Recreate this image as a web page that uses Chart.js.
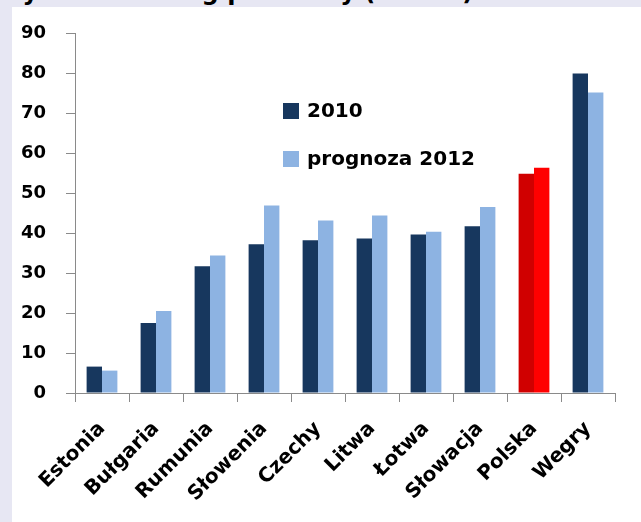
<!DOCTYPE html>
<html>
<head>
<meta charset="utf-8">
<script src="https://cdn.jsdelivr.net/npm/chart.js@4"></script>
<style>
  html, body { margin:0; padding:0; }
  body { width:641px; height:522px; background:#e7e7f3; position:relative; overflow:hidden; font-family:"DejaVu Sans", sans-serif; }
  #title { position:absolute; left:-4px; top:-22px; font:bold 24px "DejaVu Sans"; line-height:28px; color:#000; white-space:nowrap; z-index:0; }
  #panel { position:absolute; left:12px; top:7px; width:629px; height:515px; background:#fff; z-index:1; }
</style>
</head>
<body>
<div id="title">Wykres 1.1 Dług publiczny (% PKB)</div>
<div id="panel"><canvas id="c"></canvas></div>
<script>
const categories = ['Estonia','Bułgaria','Rumunia','Słowenia','Czechy','Litwa','Łotwa','Słowacja','Polska','Wegry'];
const seriesNames = ['2010','prognoza 2012'];
const values2010 = [6.6, 17.5, 31.7, 37.2, 38.2, 38.6, 39.6, 41.7, 54.8, 79.9];
const values2012 = [5.6, 20.5, 34.4, 46.9, 43.1, 44.4, 40.3, 46.5, 56.3, 75.1];
const yTicks = [0,10,20,30,40,50,60,70,80,90];
const highlighted = 'Polska';

const dark = '#17375e', light = '#8db3e2';
const darkHi = '#d00000', lightHi = '#ff0000';
const colorsFor = (base, hi) => categories.map(c => c === highlighted ? hi : base);

const FONT = '"DejaVu Sans", sans-serif';
const axisColor = '#8a8a8a';

const legendPlugin = {
  id: 'innerLegend',
  afterDraw(chart) {
    const {ctx, chartArea} = chart;
    const x0 = chartArea.left + 208;
    const rows = [chartArea.top + 78, chartArea.top + 126];
    ctx.save();
    ctx.font = 'bold 20px ' + FONT;
    ctx.textBaseline = 'middle';
    chart.data.datasets.forEach((ds, i) => {
      const cy = rows[i];
      ctx.fillStyle = ds.legendColor;
      ctx.fillRect(x0, cy - 8, 16, 16);
      ctx.fillStyle = '#000';
      ctx.fillText(ds.label, x0 + 24, cy + 1);
    });
    ctx.restore();
  }
};

new Chart(document.getElementById('c'), {
  type: 'bar',
  data: {
    labels: categories,
    datasets: [
      { label: seriesNames[0], data: values2010, backgroundColor: colorsFor(dark, darkHi), legendColor: dark,
        categoryPercentage: 0.57, barPercentage: 1.0 },
      { label: seriesNames[1], data: values2012, backgroundColor: colorsFor(light, lightHi), legendColor: light,
        categoryPercentage: 0.57, barPercentage: 1.0 }
    ]
  },
  options: {
    responsive: true,
    maintainAspectRatio: false,
    animation: false,
    layout: { padding: { top: 26, right: 26, left: 0, bottom: 0 } },
    plugins: { legend: { display: false }, tooltip: { enabled: false }, title: { display: false } },
    scales: {
      x: {
        grid: { display: true, drawOnChartArea: false, drawTicks: true, tickLength: 9, color: axisColor, offset: true },
        border: { color: axisColor, width: 1 },
        ticks: { autoSkip: false, minRotation: 45, maxRotation: 45, padding: 15, color: '#000',
                 font: { family: FONT, size: 20, weight: 'bold' } },
        afterFit(scale) { scale.height = 129; }
      },
      y: {
        min: 0, max: 90,
        afterBuildTicks(scale) { scale.ticks = yTicks.map(v => ({ value: v })); },
        grid: { display: true, drawOnChartArea: false, drawTicks: true, tickLength: 9, color: axisColor },
        border: { color: axisColor, width: 1 },
        ticks: { padding: 20, color: '#000', font: { family: FONT, size: 18, weight: 'bold' } },
        afterFit(scale) { scale.width = 63; scale.paddingTop = 11; scale.paddingBottom = 11; }
      }
    }
  },
  plugins: [legendPlugin]
});
</script>
</body>
</html>
